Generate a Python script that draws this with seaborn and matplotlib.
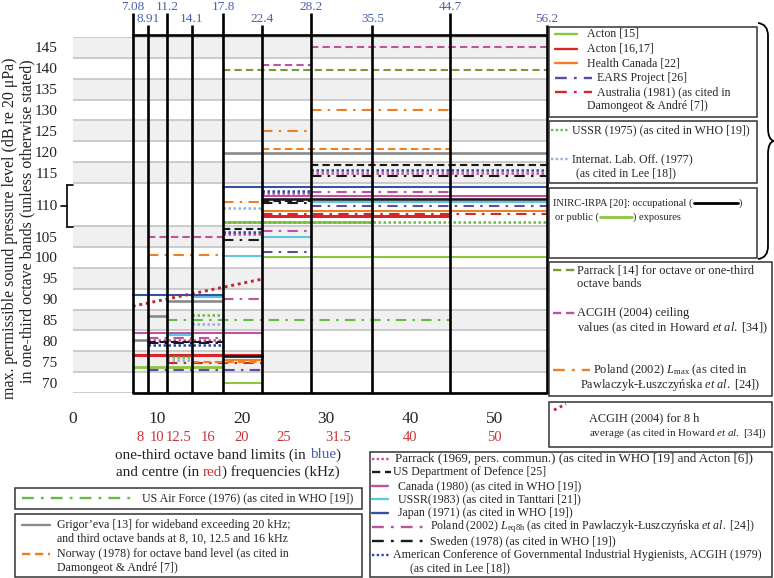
import numpy as np
import pandas as pd
import seaborn as sns
import matplotlib.pyplot as plt
from matplotlib.lines import Line2D
from matplotlib.patches import Rectangle, PathPatch
from matplotlib.path import Path

# one-third octave band limits and centre frequencies (kHz)
band_limits = [7.08, 8.91, 11.2, 14.1, 17.8, 22.4, 28.2, 35.5, 44.7, 56.2]
band_limit_labels = ["7.08", "8.91", "11.2", "14.1", "17.8", "22.4", "28.2", "35.5", "44.7", "56.2"]
centre_freqs = [8, 10, 12.5, 16, 20, 25, 31.5, 40, 50]
centre_labels = ["8", "10", "12.5", "16", "20", "25", "31.5", "40", "50"]
long_centre_ticks = [8, 12.5, 16, 25, 31.5]
x_ticks = [0, 10, 20, 30, 40, 50]
y_ticks = [70, 75, 80, 85, 90, 95, 100, 105, 110, 115, 120, 125, 130, 135, 140, 145]

# guideline segments: (band from kHz, band to kHz, level dB)
acton15 = [(7.08, 17.8, 73.8), (17.8, 35.5, 108.0)]
acton1617 = [(7.08, 22.4, 76.7), (22.4, 44.7, 108.7)]
health_canada = [(17.8, 22.4, 75.3), (22.4, 56.2, 109.3)]
ears = [(8.91, 22.4, 73.0), (22.4, 28.2, 101.3), (28.2, 56.2, 109.8)]
australia = [(11.2, 22.4, 74.6), (22.4, 56.2, 108.95)]
ussr1975 = [(11.2, 14.1, 76.1), (14.1, 17.8, 86.2), (17.8, 56.2, 108.0)]
ilo1977 = [(11.2, 14.1, 75.3), (14.1, 17.8, 84.1), (17.8, 22.4, 109.6)]
inirc_occ = [(17.8, 22.4, 76.25), (22.4, 56.2, 110.6)]
inirc_pub = [(17.8, 22.4, 70.0), (22.4, 56.2, 100.2)]
parrack14 = [(17.8, 56.2, 139.7)]
acgih04_ceiling = [(8.91, 17.8, 104.9), (22.4, 28.2, 140.9), (28.2, 56.2, 145.2)]
poland_lmax = [(8.91, 17.8, 100.5), (17.8, 22.4, 110.3), (22.4, 28.2, 125.0), (28.2, 44.7, 130.05)]
us_air_force = [(11.2, 44.7, 84.9)]
grigoreva = [(7.08, 8.91, 80.1), (8.91, 11.2, 85.9), (11.2, 14.1, 89.5), (14.1, 17.8, 89.5), (17.8, 56.2, 119.7)]
norway = [(14.1, 22.4, 74.9), (22.4, 44.7, 120.7)]
parrack1969 = [(8.91, 17.8, 80.3), (17.8, 22.4, 105.6), (22.4, 28.2, 111.3), (28.2, 56.2, 114.9)]
us_dod = [(8.91, 17.8, 79.7), (17.8, 22.4, 106.9), (22.4, 28.2, 110.4), (28.2, 56.2, 116.7)]
canada = [(7.08, 22.4, 82.0), (22.4, 56.2, 111.0)]
ussr1983 = [(11.2, 14.1, 81.4), (14.1, 17.8, 90.4), (17.8, 22.4, 100.4), (22.4, 28.2, 104.9), (28.2, 56.2, 110.3)]
japan = [(7.08, 17.8, 90.9), (17.8, 56.2, 112.0)]
poland_leq = [(8.91, 17.8, 80.7), (17.8, 22.4, 89.95), (22.4, 28.2, 106.3), (28.2, 44.7, 111.4)]
sweden = [(8.91, 17.8, 79.4), (17.8, 22.4, 104.1), (22.4, 28.2, 110.2), (28.2, 56.2, 114.3)]
acgih1979 = [(8.91, 17.8, 78.9), (17.8, 22.4, 106.1), (22.4, 28.2, 111.6), (28.2, 56.2, 115.7)]
acgih04_8h_f = [7.08, 22.4]
acgih04_8h_L = [88.3, 94.8]

sns.set_style("white")
plt.rcParams['font.family'] = ['Liberation Serif', 'DejaVu Serif']
plt.rcParams['mathtext.fontset'] = 'custom'
plt.rcParams['mathtext.rm'] = 'Liberation Serif'
plt.rcParams['mathtext.it'] = 'Liberation Serif:italic'

W, H = 774, 578
fig = plt.figure(figsize=(W / 100, H / 100), dpi=100)
ax = fig.add_axes([73 / W, 1 - 393 / H, (547 - 73) / W, (393 - 37) / H])

# stretch the crowded 107.5-112.5 dB band
K = 43 / 20.8
def fwd(v):
    v = np.asarray(v, float)
    return np.where(v < 107.5, v, np.where(v > 112.5, v + 5 * (K - 1), 107.5 + (v - 107.5) * K))
def inv(s):
    s = np.asarray(s, float)
    return np.where(s < 107.5, s, np.where(s > 107.5 + 5 * K, s - 5 * (K - 1), 107.5 + (s - 107.5) / K))
ax.set_yscale('function', functions=(fwd, inv))

GREEN = "#8cc63f"; RED = "#d7262b"; ORANGE = "#f07f22"; EARS_C = "#5b4ea0"
GDOT = "#66bb46"; LBLUE = "#8fb1de"; OLIVE = "#7a9a35"; MAG = "#c2519f"
DRED = "#c1272d"; GREY = "#8a8a8a"; CYAN = "#5ec6df"; BLUE = "#3752a4"
NAVY = "#2b4aa3"; BLK = "#1a1a1a"
SOLID = '-'; DASH = (0, (3.5, 2)); DDOT = (0, (5, 3, 1.2, 3)); DOT = (0, (1, 1))

# alternating bands and grid
tops = np.arange(147.5, 67.5, -5)
for i, t in enumerate(tops):
    if i % 2 == 0:
        ax.axhspan(t - 5, t, color='#f0f0f0', lw=0, zorder=0)
for g in np.arange(67.5, 148, 5):
    ax.axhline(g, color='#c8c8c8', lw=1.3, zorder=0.5)

def draw_series(segs, color, ls, lw=1.5, z=3):
    rows = []
    for i, (x0, x1, y) in enumerate(segs):
        rows.append({"f": x0, "L": y, "seg": i})
        rows.append({"f": x1, "L": y, "seg": i})
    sns.lineplot(data=pd.DataFrame(rows), x="f", y="L", units="seg", estimator=None,
                 sort=False, color=color, linestyle=ls, lw=lw, ax=ax, zorder=z)

draw_series(acton15, GREEN, SOLID, 2.0)
draw_series(inirc_pub, GREEN, SOLID)
draw_series(acton1617, RED, SOLID, 2.2)
draw_series(inirc_occ, BLK, SOLID, 1.9)
draw_series(health_canada, ORANGE, SOLID)
draw_series(canada, MAG, SOLID)
draw_series(ussr1983, CYAN, SOLID)
draw_series(japan, BLUE, SOLID)
draw_series(grigoreva, GREY, SOLID, 1.9)
draw_series(ears, EARS_C, DDOT)
draw_series(australia, RED, DDOT)
draw_series(ussr1975, GDOT, DOT, 1.8)
draw_series(ilo1977, LBLUE, DOT, 1.8)
draw_series(parrack14, OLIVE, DASH)
draw_series(acgih04_ceiling, MAG, DASH)
draw_series(poland_lmax, ORANGE, DDOT)
draw_series(us_air_force, GDOT, DDOT)
draw_series(norway, ORANGE, DASH)
draw_series(parrack1969, MAG, DOT, 1.8)
draw_series(us_dod, BLK, DASH)
draw_series(poland_leq, MAG, DDOT)
draw_series(sweden, BLK, DDOT)
draw_series(acgih1979, NAVY, DOT, 1.8)
sns.lineplot(x=acgih04_8h_f, y=acgih04_8h_L, color=DRED, linestyle=(0, (1, 1.3)), lw=2.1, ax=ax, zorder=3)

ax.set_xlim(0, 56.2)
ax.set_ylim(67.5, 147.5)
ax.set_xlabel("")
ax.set_ylabel("")
for s in ax.spines.values():
    s.set_visible(False)

# band-limit lines above and through the plot
xt = ax.get_xaxis_transform()
BLAB = "#4f5fa8"; RLAB = "#c8333a"
for i, (xv, lab) in enumerate(zip(band_limits, band_limit_labels)):
    top = 1.067 if i % 2 == 0 else 1.034
    ax.plot([xv, xv], [0, top], transform=xt, color='k', lw=1.9, clip_on=False, zorder=6,
            solid_capstyle='butt')
    ax.text(xv, 1.084 if i % 2 == 0 else 1.051, lab, transform=xt, ha='center', va='center',
            color=BLAB, fontsize=9.5)
ax.plot([7.08, 56.2], [1.005, 1.005], transform=xt, color='k', lw=1.9, clip_on=False, zorder=6)
ax.plot([7.08, 56.2], [0, 0], transform=xt, color='k', lw=1.9, clip_on=False, zorder=6)

ax.set_xticks(x_ticks)
ax.set_xticklabels([str(v) for v in x_ticks])
ax.set_xticks(long_centre_ticks, minor=True)
ax.tick_params(axis='x', which='major', length=12, width=2.2, pad=1, labelsize=12.5, color='#222222')
ax.tick_params(axis='x', which='minor', length=25, width=2.2, color='#222222')
for f, lab in zip(centre_freqs, centre_labels):
    ax.text(f, -0.124, lab, transform=xt, ha='center', va='center', color=RLAB, fontsize=10.5)

ax.set_yticks(y_ticks)
ax.set_yticklabels([str(v) for v in y_ticks])
ax.tick_params(axis='y', length=0, pad=11, labelsize=11, labelcolor='#222222')

# ---- figure-pixel helpers ----
def fx(x): return x / W
def fy(y): return 1 - y / H
def pline(x0, x1, y0, y1=None, **kw):
    y1 = y0 if y1 is None else y1
    fig.add_artist(Line2D([fx(x0), fx(x1)], [fy(y0), fy(y1)], transform=fig.transFigure, **kw))
def ptext(x, y, s, size=8.6, **kw):
    return fig.text(fx(x), fy(y), s, fontsize=size, va='center', ha='left', **kw)
def pbox(x0, y0, x1, y1):
    fig.add_artist(Rectangle((fx(x0), fy(y1)), fx(x1) - fx(x0), fy(y0) - fy(y1),
                             transform=fig.transFigure, fill=False, lw=1.1, ec='#333333'))

renderer = fig.canvas.get_renderer()
def width_px(t):
    return t.get_window_extent(renderer).width

def colored_line(pieces, cx, cy, size):
    probe1 = fig.text(0, 0, "x x", fontsize=size); probe2 = fig.text(0, 0, "xx", fontsize=size)
    sp = width_px(probe1) - width_px(probe2)
    probe1.remove(); probe2.remove()
    texts = []
    for s, c, gap in pieces:
        texts.append((fig.text(0, fy(cy), s, color=c, fontsize=size, va='center', ha='left'), gap))
    total = sum(width_px(t) + (sp if g else 0) for t, g in texts)
    x = cx - total / 2
    for t, g in texts:
        if g:
            x += sp
        t.set_x(fx(x))
        x += width_px(t)

# left bracket around the stretched band
pline(67, 67, 185, 227, color='k', lw=1.2)
pline(67, 73, 185, color='k', lw=1.2)
pline(67, 73, 227, color='k', lw=1.2)
pline(61, 67, 206, color='k', lw=1.2)

# axis titles
fig.text(fx(10), fy(228), "max. permissible sound pressure level (dB re 20 μPa)", rotation=90,
         ha='center', va='center', fontsize=11.5, color='#222222')
fig.text(fx(27), fy(221), "in one-third octave bands (unless otherwise stated)", rotation=90,
         ha='center', va='center', fontsize=11.5, color='#222222')
colored_line([("one-third octave band limits (in", '#222222', False), ("blue", BLAB, True),
              (")", '#222222', False)], 228, 455, 10.9)
colored_line([("and centre (in", '#222222', False), ("red", RLAB, True),
              (") frequencies (kHz)", '#222222', False)], 228, 472, 10.9)

# ---- legend boxes, right ----
LW = 1.7
pbox(549, 27, 757, 117)
pline(555, 577, 34, color=GREEN, lw=LW); ptext(587, 34, "Acton [15]")
pline(555, 577, 49, color=RED, lw=LW); ptext(587, 49, "Acton [16,17]")
pline(555, 577, 63, color=ORANGE, lw=LW); ptext(587, 63, "Health Canada [22]")
pline(555, 592, 78, color=EARS_C, lw=LW, linestyle=DDOT); ptext(597, 78, "EARS Project [26]")
pline(555, 592, 92, color=RED, lw=LW, linestyle=DDOT); ptext(597, 92, "Australia (1981) (as cited in")
ptext(587, 106, "Damongeot & André [7])")

pbox(549, 121, 757, 183)
pline(551, 570, 130, color=GDOT, lw=LW, linestyle=DOT); ptext(572, 130, "USSR (1975) (as cited in WHO [19])")
pline(551, 570, 159, color=LBLUE, lw=LW, linestyle=DOT); ptext(572, 159, "Internat. Lab. Off. (1977)")
ptext(576, 173, "(as cited in Lee [18])")

pbox(549, 188, 757, 258)
t = ptext(553, 203, "INIRC-IRPA [20]: occupational (", size=7.6)
xr = 553 + width_px(t)
pline(xr + 1, xr + 45, 203, color='k', lw=2.0); ptext(xr + 46, 203, ")", size=7.6)
t = ptext(555, 217, "or public (", size=7.6)
xr = 555 + width_px(t)
pline(xr + 1, xr + 33, 217, color=GREEN, lw=2.0); ptext(xr + 34, 217, ") exposures", size=7.6)

# curly brace
bvx = [fx(v) for v in (758, 768, 768, 768, 768, 774, 768, 768, 768, 768, 758)]
bvy = [fy(v) for v in (23, 24, 36, 128, 140, 141, 142, 154, 246, 258, 259)]
bcodes = [Path.MOVETO, Path.CURVE3, Path.CURVE3, Path.LINETO, Path.CURVE3, Path.CURVE3,
          Path.CURVE3, Path.CURVE3, Path.LINETO, Path.CURVE3, Path.CURVE3]
fig.add_artist(PathPatch(Path(list(zip(bvx, bvy)), bcodes), fill=False, lw=1.3, ec='k',
                         transform=fig.transFigure))

pbox(549, 262, 772, 396)
pline(553, 575, 270, color=OLIVE, lw=LW, linestyle=DASH); ptext(577, 270, "Parrack [14] for octave or one-third", size=8.9)
ptext(577, 284, "octave bands", size=8.9)
pline(553, 575, 313, color=MAG, lw=LW, linestyle=DASH); ptext(577, 313, "ACGIH (2004) ceiling", size=8.9)
ptext(577, 328, r"values (as cited in Howard $\it{et\ al.}$ [34])", size=8.9)
pline(553, 590, 370, color=ORANGE, lw=LW, linestyle=DDOT)
ptext(593, 370, r"Poland (2002) $L_{\rm max}$ (as cited in", size=8.9)
ptext(580, 385, r"Pawlaczyk-Łuszczyńska $\it{et\ al.}$ [24])", size=8.9)

pbox(549, 402, 772, 447)
pline(554, 566, 410, 404, color=DRED, lw=2.0, linestyle=(0, (1, 1.3)))
ptext(589, 418, "ACGIH (2004) for 8 h", size=8.8)
ptext(589, 433, r"average (as cited in Howard $\it{et\ al.}$ [34])", size=8.0)

# ---- legend boxes, bottom ----
pbox(15, 488, 362, 509)
pline(22, 137, 498, color=GDOT, lw=LW, linestyle=DDOT); ptext(142, 498, "US Air Force (1976) (as cited in WHO [19])")

pbox(15, 514, 362, 577)
pline(22, 50, 525, color=GREY, lw=LW); ptext(57, 525, "Grigor’eva [13] for wideband exceeding 20 kHz;")
ptext(57, 539, "and third octave bands at 8, 10, 12.5 and 16 kHz")
pline(22, 50, 554, color=ORANGE, lw=LW, linestyle=DASH); ptext(57, 554, "Norway (1978) for octave band level (as cited in")
ptext(57, 568, "Damongeot & André [7])")

pbox(370, 452, 772, 577)
rows_y = [459, 472, 486, 499, 513, 527, 541, 555, 568]
pline(372, 391, rows_y[0], color=MAG, lw=LW, linestyle=DOT)
ptext(395, rows_y[0], "Parrack (1969, pers. commun.) (as cited in WHO [19] and Acton [6])", size=9.4)
pline(372, 391, rows_y[1], color=BLK, lw=LW, linestyle=DASH)
ptext(393, rows_y[1], "US Department of Defence [25]")
pline(372, 388, rows_y[2], color=MAG, lw=LW); ptext(398, rows_y[2], "Canada (1980) (as cited in WHO [19])")
pline(372, 388, rows_y[3], color=CYAN, lw=LW); ptext(398, rows_y[3], "USSR(1983) (as cited in Tanttari [21])")
pline(372, 388, rows_y[4], color=BLUE, lw=LW); ptext(398, rows_y[4], "Japan (1971) (as cited in WHO [19])")
pline(372, 425, rows_y[5], color=MAG, lw=LW, linestyle=DDOT)
ptext(430, rows_y[5], r"Poland (2002) $L_{\rm eq8h}$ (as cited in Pawlaczyk-Łuszczyńska $\it{et\ al.}$ [24])")
pline(372, 425, rows_y[6], color=BLK, lw=LW, linestyle=DDOT)
ptext(430, rows_y[6], "Sweden (1978) (as cited in WHO [19])")
pline(372, 391, rows_y[7], color=NAVY, lw=LW, linestyle=DOT)
ptext(393, rows_y[7], "American Conference of Governmental Industrial Hygienists, ACGIH (1979)")
ptext(410, rows_y[8], "(as cited in Lee [18])")

fig.savefig("out.png", dpi=100)
